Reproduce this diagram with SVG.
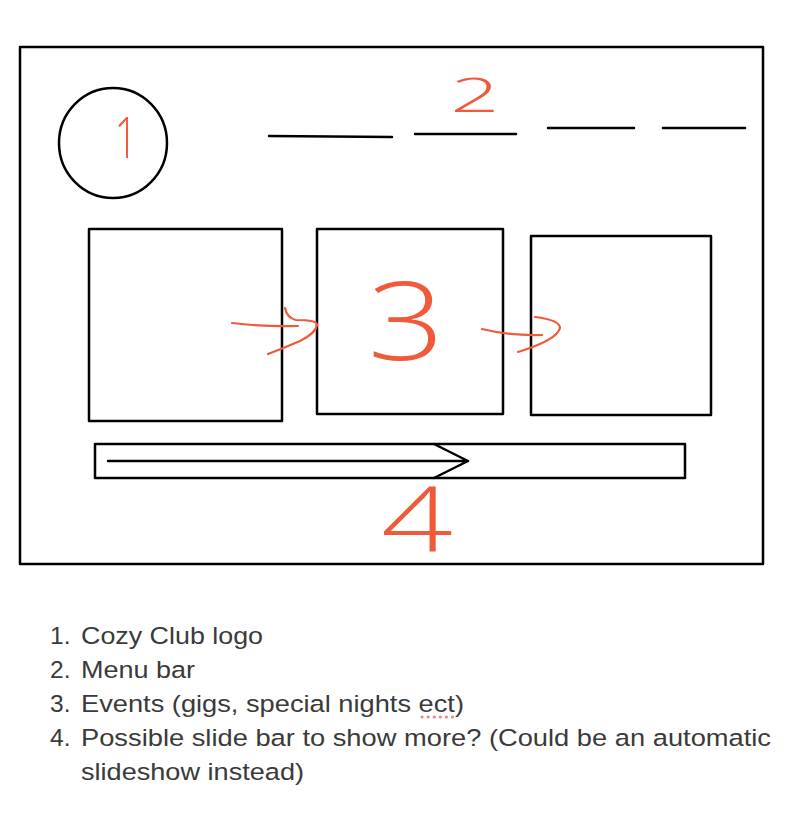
<svg xmlns="http://www.w3.org/2000/svg" width="806" height="832" viewBox="0 0 806 832">
<style>
.ink{fill:none;stroke:#000;stroke-width:2.5;stroke-linecap:round;stroke-linejoin:round}
.red{fill:none;stroke:#f05a3a;stroke-width:2.2;stroke-linecap:round;stroke-linejoin:round}
.num{fill:#f05a3a;font-family:"Open Sans","Lato","DejaVu Sans",sans-serif;font-weight:200}
.leg{fill:#3a3a3a;font-family:"Liberation Sans","Noto Sans",sans-serif;font-size:24.5px}
</style>
<rect width="806" height="832" fill="#fff"/>
<g id="frame"><rect class="ink" x="20" y="47" width="743" height="517"/></g>
<g id="logo"><ellipse class="ink" cx="113" cy="143" rx="54" ry="55"/></g>
<g id="menu">
<path class="ink" d="M269 136 L392 137"/>
<path class="ink" d="M415 134 L516 134"/>
<path class="ink" d="M548 128 L634 128"/>
<path class="ink" d="M663 128 L745 128"/>
</g>
<g id="event1"><rect class="ink" x="89" y="229" width="193" height="192"/></g>
<g id="event2"><rect class="ink" x="317" y="229" width="186" height="185"/></g>
<g id="event3"><rect class="ink" x="531" y="236" width="180" height="179"/></g>
<g id="slidebar"><rect class="ink" x="95" y="444" width="590" height="34"/></g>
<g id="connectors">
<path class="ink" d="M108 461 L468 461 M434 444 L468 461 L434 478"/>
<path class="red" d="M232 323 Q265 327 298 326 M285 308 Q287 318 296 320 Q318 320 317 325 Q316 333 300 341 Q284 348 268 354"/>
<path class="red" d="M482 329 Q510 336 542 335 M535 317 Q560 320 560 328 Q557 340 518 352"/>
</g>
<g id="labels">
<text class="num" x="126" y="158" font-size="58" text-anchor="middle" transform="translate(126 0) scale(0.7 1) translate(-126 0)">1</text>
<text class="num" x="475" y="112" font-size="48" text-anchor="middle" transform="translate(475 0) scale(1.8 1) translate(-475 0)">2</text>
<text class="num" x="406" y="360" font-size="108" text-anchor="middle" transform="translate(406 0) scale(1.25 1) translate(-406 0)">3</text>
<text class="num" x="417" y="552" font-size="90" text-anchor="middle" transform="translate(417 0) scale(1.4 1) translate(-417 0)">4</text>
</g>
<g id="legend">
<text class="leg" x="50" y="644">1.</text><text class="leg" x="81" y="644" textLength="182" lengthAdjust="spacingAndGlyphs">Cozy Club logo</text>
<text class="leg" x="50" y="678">2.</text><text class="leg" x="81" y="678" textLength="114" lengthAdjust="spacingAndGlyphs">Menu bar</text>
<text class="leg" x="50" y="712">3.</text><text class="leg" x="81" y="712" textLength="383" lengthAdjust="spacingAndGlyphs">Events (gigs, special nights ect)</text>
<text class="leg" x="50" y="746">4.</text><text class="leg" x="81" y="746" textLength="690" lengthAdjust="spacingAndGlyphs">Possible slide bar to show more? (Could be an automatic</text>
<text class="leg" x="81" y="780" textLength="223" lengthAdjust="spacingAndGlyphs">slideshow instead)</text>
<path d="M422 717 L458 717" stroke="#f08a80" stroke-width="3.2" stroke-linecap="round" stroke-dasharray="0.1 6" fill="none"/>
</g>
</svg>
